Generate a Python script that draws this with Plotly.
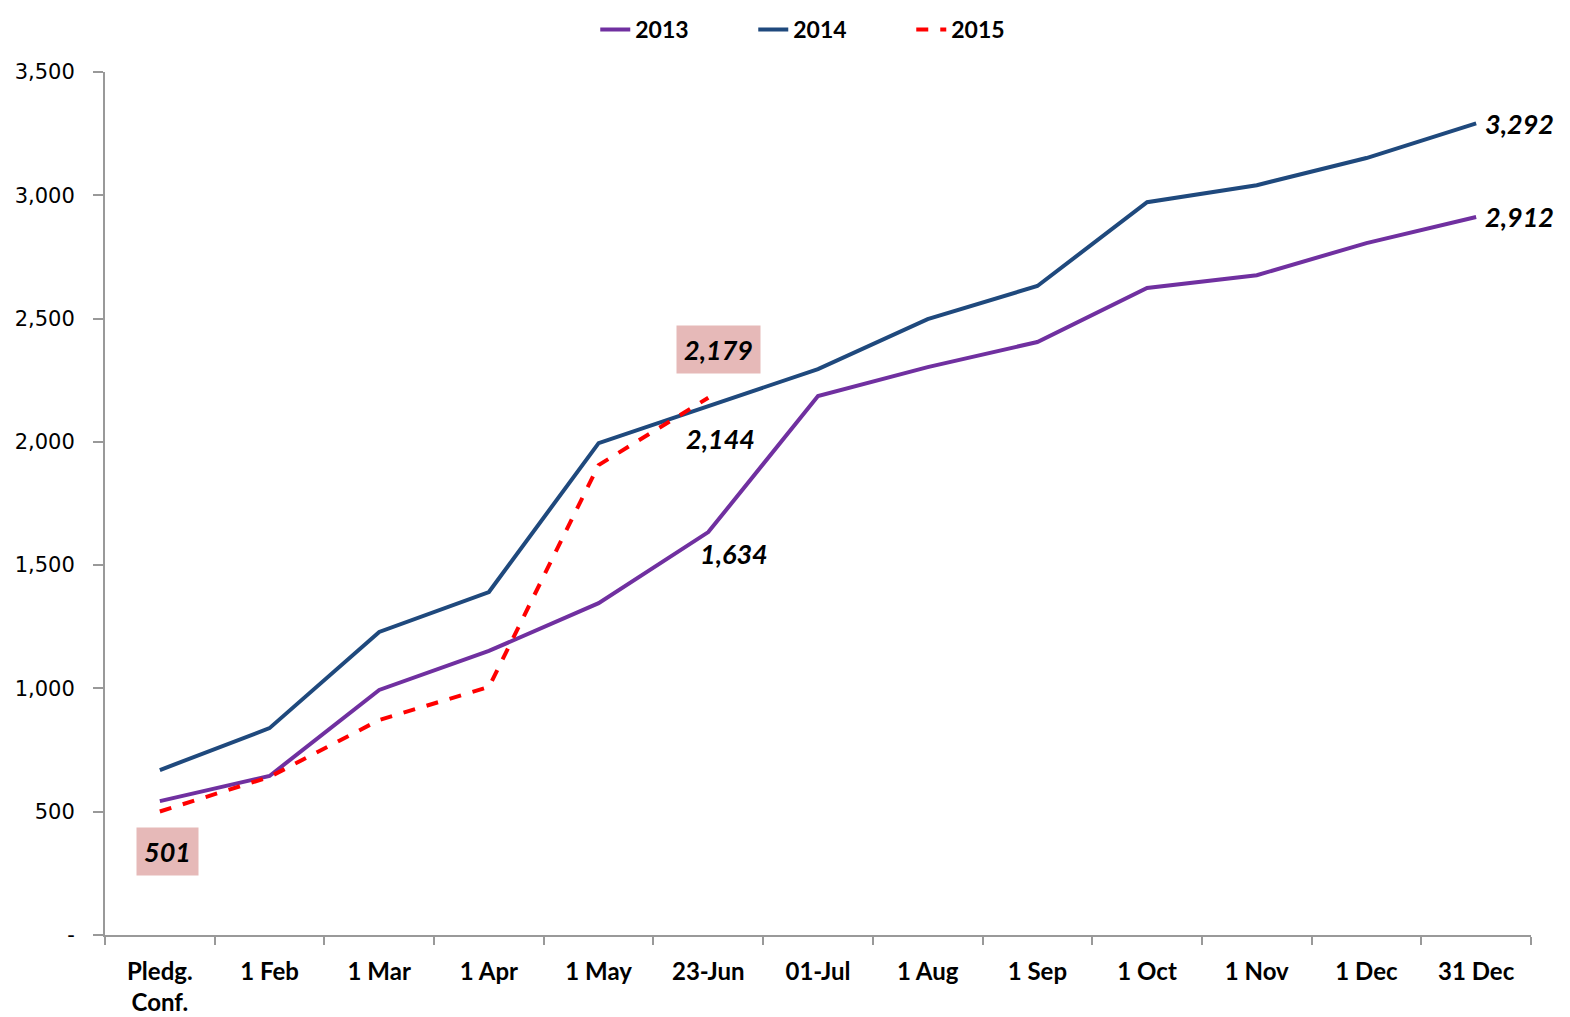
import plotly.graph_objects as go

categories = ["Pledg.<br>Conf.", "1 Feb", "1 Mar", "1 Apr", "1 May", "23-Jun", "01-Jul",
              "1 Aug", "1 Sep", "1 Oct", "1 Nov", "1 Dec", "31 Dec"]
values_2013 = [543, 645, 994, 1152, 1346, 1634, 2186, 2303, 2405, 2624, 2676, 2806, 2912]
values_2014 = [669, 839, 1229, 1391, 1995, 2144, 2295, 2498, 2632, 2972, 3041, 3151, 3292]
values_2015 = [501, 641, 872, 1006, 1906, 2179]
y_tickvals = [0, 500, 1000, 1500, 2000, 2500, 3000, 3500]
y_ticktext = ["-", "500", "1,000", "1,500", "2,000", "2,500", "3,000", "3,500"]

fig = go.Figure()
fig.add_trace(go.Scatter(x=categories, y=values_2013, mode="lines", name="2013",
                         line=dict(color="#7030A0", width=4)))
fig.add_trace(go.Scatter(x=categories, y=values_2014, mode="lines", name="2014",
                         line=dict(color="#1F497D", width=4)))
fig.add_trace(go.Scatter(x=categories[:len(values_2015)], y=values_2015, mode="lines", name="2015",
                         line=dict(color="#FF0000", width=4, dash="dash")))

lab_font = dict(family="Lato", size=27, color="black", weight="bold", style="italic")

def fmt(v):
    return f"{v:,}"

anns = [
    dict(x=categories[0], y=values_2015[0], text=fmt(values_2015[0]), xshift=8, yshift=-40,
         bgcolor="#E6B9B8", borderpad=7),
    dict(x=categories[5], y=values_2015[5], text=fmt(values_2015[5]), xshift=10, yshift=48,
         bgcolor="#E6B9B8", borderpad=7),
    dict(x=categories[5], y=values_2014[5], text=fmt(values_2014[5]), xshift=12, yshift=-32),
    dict(x=categories[5], y=values_2013[5], text=fmt(values_2013[5]), xshift=26, yshift=-21),
    dict(x=categories[12], y=values_2014[12], text=fmt(values_2014[12]), xshift=43, yshift=0),
    dict(x=categories[12], y=values_2013[12], text=fmt(values_2013[12]), xshift=43, yshift=0),
]
for a in anns:
    fig.add_annotation(showarrow=False, font=lab_font, **a)

fig.update_layout(
    width=1570, height=1017,
    margin=dict(l=97, r=47, t=64, b=90, autoexpand=False),
    paper_bgcolor="white", plot_bgcolor="white",
    showlegend=True,
    legend=dict(orientation="h", x=0.51, xanchor="center", y=1.0, yanchor="top",
                yref="container", font=dict(family="Lato", size=23, color="black", weight="bold"),
                traceorder="normal", entrywidth=113, entrywidthmode="pixels"),
    xaxis=dict(type="category", showgrid=False, showline=True, linecolor="#999999", linewidth=2,
               ticks="outside", tickson="boundaries", ticklen=8, tickcolor="#999999", tickwidth=2,
               tickfont=dict(family="Lato", size=24, color="black", weight="bold"),
               range=[-0.5, 12.5], ticklabelstandoff=14),
    yaxis=dict(range=[0, 3500], tickvals=y_tickvals, ticktext=y_ticktext, showgrid=False,
               showline=True, linecolor="#999999", linewidth=2, ticks="outside", ticklen=10,
               tickcolor="#999999", tickwidth=2, zeroline=False,
               tickfont=dict(family="DejaVu Sans", size=21, color="black"), ticklabelstandoff=14),
)

fig.write_html("out.html")
